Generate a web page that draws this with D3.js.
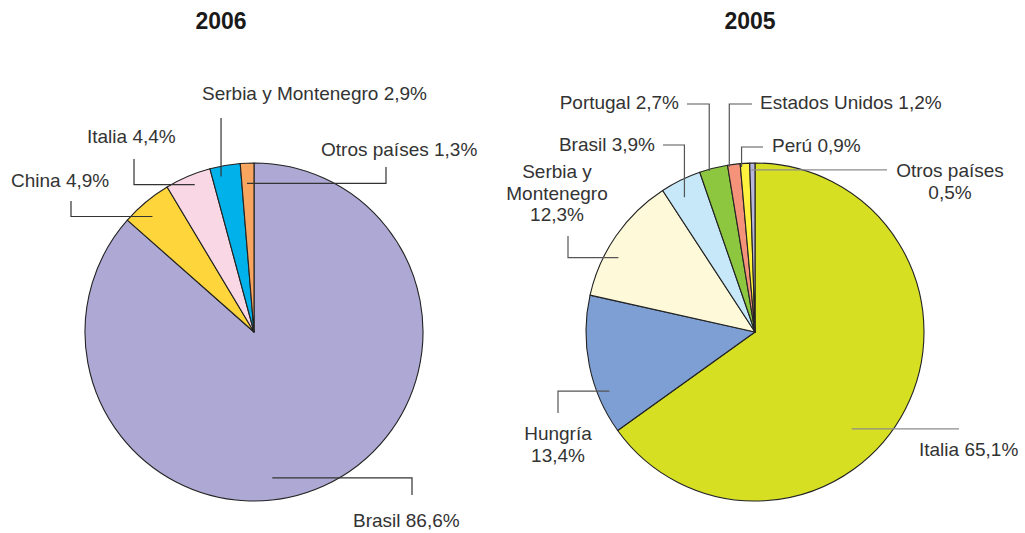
<!DOCTYPE html>
<html>
<head>
<meta charset="utf-8">
<script src="https://cdn.jsdelivr.net/npm/d3@7"></script>
<style>
body { margin: 0; background: #fff; }
text { font-family: "Liberation Sans", Arial, Helvetica, sans-serif; fill: #333; }
</style>
</head>
<body>
<svg id="chart" width="1025" height="533"></svg>
<script>
// ---- data ----
var years = ["2006", "2005"];

var countries2006 = ["Brasil", "China", "Italia", "Serbia y Montenegro", "Otros países"];
var shares2006 = [86.6, 4.9, 4.4, 2.9, 1.3];
var colors2006 = ["#aea9d4", "#fed63b", "#f9d7e5", "#00b2e9", "#f8a65f"];

var countries2005 = ["Italia", "Hungría", "Serbia y Montenegro", "Brasil", "Portugal", "Estados Unidos", "Perú", "Otros países"];
var shares2005 = [65.1, 13.4, 12.3, 3.9, 2.7, 1.2, 0.9, 0.5];
var colors2005 = ["#d7df22", "#7d9fd3", "#fefad9", "#c6e8f8", "#8dc63f", "#f4937a", "#fff23e", "#b9b6dc"];

// ---- layout ----
var width = 1025,
	height = 533,
	radius = 169,
	centers = [[254, 332], [755, 332]],
	titleX = [221, 750],
	titleY = 29;

// t: position in slice, k: radius ratio of the leader start
// path: hv = horizontal then vertical, vh = vertical then horizontal
var labels2006 = [
	{t: 0.555, k: 0.87, path: "hv", end: [412, 495], x: 353, y: 527, anchor: "start"},
	{t: 0.41, k: 0.91, path: "hv", end: [71, 201], x: 11, y: 187, anchor: "start"},
	{t: 0.57, k: 0.94, path: "hv", end: [134, 159], x: 87, y: 143, anchor: "start"},
	{t: 0.30, k: 0.94, path: "v", end: [0, 118], x: 202, y: 100, anchor: "start"},
	{t: 0.42, k: 0.88, path: "hv", end: [386, 167], x: 321, y: 156, anchor: "start"}
];
var labels2005 = [
	{t: 0.576, k: 0.81, path: "h", end: [959, 0], x: 919, y: 456, anchor: "start", light: true},
	{t: 0.28, k: 0.93, path: "hv", end: [558, 413], x: 558, y: 440, anchor: "middle", split: [1, 1]},
	{t: 0.36, k: 0.92, path: "hv", end: [568, 236], x: 557, y: 178, anchor: "middle", split: [2, 1, 1]},
	{t: 0.39, k: 0.90, path: "vh", end: [663, 145], x: 655, y: 151, anchor: "end"},
	{t: 0.33, k: 0.99, path: "vh", end: [687, 104], x: 679, y: 109, anchor: "end"},
	{t: 0.12, k: 0.99, path: "vh", end: [752, 104], x: 760, y: 109, anchor: "start"},
	{t: 0.12, k: 0.98, path: "vh", end: [763, 147], x: 772, y: 152, anchor: "start"},
	{t: 0.30, k: 0.96, path: "h", end: [887, 0], x: 950, y: 177, anchor: "middle", split: [2, 1], light: true}
];

var fontSize = 19,
	lineHeight = 21.5;

var svg = d3.select("#chart");

function fmt(v) {
	return d3.format(".1f")(v).replace(".", ",") + "%";
}

function drawPie(idx, names, values, colors, labels) {
	var cx = centers[idx][0], cy = centers[idx][1];

	var pie = d3.pie().sort(null).value(function(d) { return d; });
	var arcs = pie(values);
	var arc = d3.arc().innerRadius(0).outerRadius(radius);

	var g = svg.append("g")
		.attr("class", "pie")
		.attr("transform", "translate(" + cx + "," + cy + ")");

	g.selectAll("path.slice")
		.data(arcs)
		.enter()
		.append("path")
		.attr("class", "slice")
		.attr("d", arc)
		.attr("fill", function(d, i) { return colors[i]; })
		.attr("stroke", "#222")
		.attr("stroke-width", 1.1)
		.attr("stroke-linejoin", "round");

	// leader lines
	arcs.forEach(function(a, i) {
		var L = labels[i];
		var ang = a.startAngle + L.t * (a.endAngle - a.startAngle);
		var p = d3.pointRadial(ang, radius * L.k);
		var px = p[0] + cx, py = p[1] + cy;
		var pts;
		if (L.path == "hv") pts = [[px, py], [L.end[0], py], [L.end[0], L.end[1]]];
		else if (L.path == "vh") pts = [[px, py], [px, L.end[1]], [L.end[0], L.end[1]]];
		else if (L.path == "h") pts = [[px, py], [L.end[0], py]];
		else pts = [[px, py], [px, L.end[1]]];

		svg.append("path")
			.attr("class", "leader")
			.attr("d", d3.line()(pts))
			.attr("fill", "none")
			.attr("stroke", L.light ? "#8c8c8c" : (idx == 0 ? "#333" : "#555"))
			.attr("stroke-width", 1.2);

		var words = (names[i] + " " + fmt(values[i])).split(" ");
		var split = L.split || [words.length];
		var rows = [], w = 0;
		split.forEach(function(n) {
			rows.push(words.slice(w, w + n).join(" "));
			w += n;
		});

		var txt = svg.append("text")
			.attr("class", "label")
			.attr("x", L.x)
			.attr("y", L.y)
			.attr("text-anchor", L.anchor)
			.style("font-size", fontSize + "px");
		rows.forEach(function(r, j) {
			txt.append("tspan")
				.attr("x", L.x)
				.attr("dy", j == 0 ? 0 : lineHeight)
				.text(r);
		});
	});

	svg.append("text")
		.attr("class", "title")
		.attr("x", titleX[idx])
		.attr("y", titleY)
		.attr("text-anchor", "middle")
		.style("font-size", "23px")
		.style("font-weight", "bold")
		.style("fill", "#1a1a1a")
		.text(years[idx]);
}

drawPie(0, countries2006, shares2006, colors2006, labels2006);
drawPie(1, countries2005, shares2005, colors2005, labels2005);
</script>
</body>
</html>
